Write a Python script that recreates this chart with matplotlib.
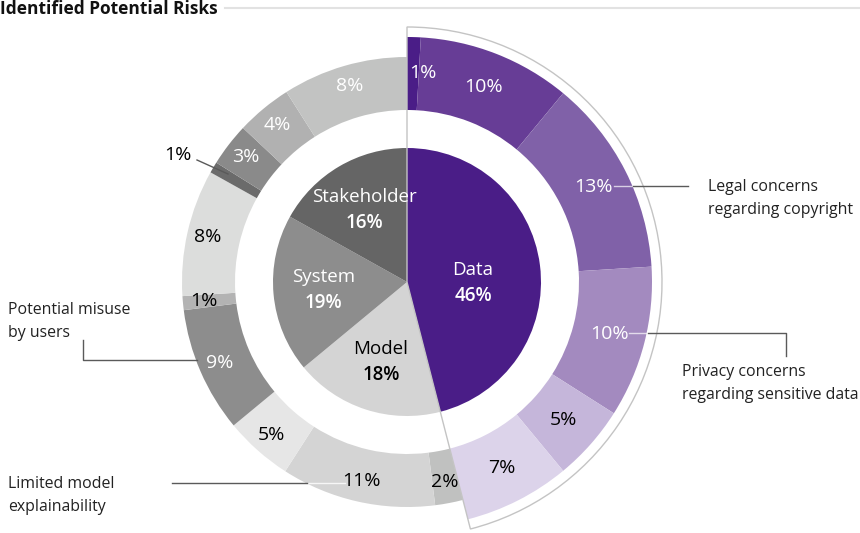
import numpy as np
import matplotlib.pyplot as plt
from matplotlib.patches import Wedge

plt.rcParams['font.family'] = ['Open Sans', 'DejaVu Sans']

# inner pie: risk categories
inner_names = ["Data", "Model", "System", "Stakeholder"]
inner_share = [46, 18, 19.1, 16.9]
inner_labels = ["46%", "18%", "19%", "16%"]

# outer ring: individual risks, clockwise from 12 o'clock
outer_group = [0, 0, 0, 0, 0, 0, 1, 1, 1, 2, 2, 2, 3, 3, 3, 3]
outer_share = [0.9, 10.1, 13, 10, 5, 7, 2, 11.1, 4.9, 9, 1, 9.1, 0.8, 3.1, 4, 9]
outer_labels = ["1%", "10%", "13%", "10%", "5%", "7%", "2%", "11%", "5%",
                "9%", "1%", "8%", "1%", "3%", "4%", "8%"]

# called-out risks
callouts = ["Legal concerns\nregarding copyright",
            "Privacy concerns\nregarding sensitive data",
            "Potential misuse\nby users",
            "Limited model\nexplainability"]

inner_colors = ["#4a1d87", "#d4d4d4", "#8d8d8d", "#656565"]
inner_text = ["white", "black", "white", "white"]
outer_colors = ["#4a1d87", "#673d96", "#8061a8", "#a38abf", "#c5b6da", "#dcd3ea",
                "#c0c1c0", "#d4d4d4", "#e6e6e6",
                "#8d8d8d", "#b3b3b3", "#dcdddc",
                "#6b6b6b", "#8a8a8a", "#b1b1b1", "#c2c3c2"]
outer_text = ["white", "white", "white", "white", "black", "black",
              "black", "black", "black",
              "white", "black", "black",
              "black", "white", "white", "white"]

W, H = 860, 533
CX, CY = 407, H - 282
R_IN = 134
R_RING_IN, R_RING_OUT, R_DATA_OUT = 172, 225, 245
LINE = "#5a5a5a"


def py(y):
    return H - y


def polar(r, ang):
    a = np.radians(ang)
    return CX + r * np.cos(a), CY + r * np.sin(a)


fig = plt.figure(figsize=(8.6, 5.33), dpi=100)
ax = fig.add_axes([0, 0, 1, 1])

ax.pie(inner_share, colors=inner_colors, radius=R_IN, center=(CX, CY),
       startangle=90, counterclock=False, wedgeprops=dict(linewidth=0))
wedges, _ = ax.pie(outer_share, colors=outer_colors, radius=R_RING_OUT, center=(CX, CY),
                   startangle=90, counterclock=False,
                   wedgeprops=dict(width=R_RING_OUT - R_RING_IN, linewidth=0))
for w, g in zip(wedges, outer_group):
    if g == 0:
        w.set_radius(R_DATA_OUT)
        w.set_width(R_DATA_OUT - R_RING_IN)

ax.set_xlim(0, W)
ax.set_ylim(0, H)
ax.set_aspect('auto')
ax.axis('off')

# outline around the data slice
total_in = sum(inner_share)
data_deg = inner_share[0] / total_in * 360
ax.add_patch(Wedge((CX, CY), 255, 90 - data_deg, 90, fill=False,
                   ec="#c4c4c4", lw=1, zorder=5))

# inner labels
cum = np.cumsum([0] + inner_share[:-1])
for i, name in enumerate(inner_names):
    mid = 90 - (cum[i] + inner_share[i] / 2) / total_in * 360
    if i == 0:
        x, y = polar(66, mid - 8)
    else:
        x, y = polar(84, mid)
    ax.text(x, y + 13, name, ha='center', va='center', fontsize=13.5,
            color=inner_text[i], zorder=6)
    ax.text(x, y - 13, inner_labels[i], ha='center', va='center', fontsize=13.5,
            fontweight='semibold', color=inner_text[i], zorder=6)

# outer labels
total_out = sum(outer_share)
cum = np.cumsum([0] + outer_share[:-1])
for i, lab in enumerate(outer_labels):
    mid = 90 - (cum[i] + outer_share[i] / 2) / total_out * 360
    r = 209 if outer_group[i] == 0 else 204
    x, y = polar(r, mid)
    if i == 0:
        ax.text(CX + 2, y, lab, ha='left', va='center', fontsize=14,
                fontweight='medium', color=outer_text[i], zorder=6)
    elif i == 12:
        ax.text(178, py(155), lab, ha='center', va='center', fontsize=14,
                fontweight='medium', color="black", zorder=6)
        ax.plot([197, 228], [py(160), py(174)], color=LINE, lw=1, zorder=6)
    else:
        ax.text(x, y, lab, ha='center', va='center', fontsize=14,
                fontweight='medium', color=outer_text[i], zorder=6)

# leader lines
ax.plot([614, 633], [py(186)] * 2, color="white", lw=1, alpha=0.7, zorder=6)
ax.plot([633, 688], [py(186)] * 2, color=LINE, lw=1, zorder=6)
ax.plot([629, 648], [py(333)] * 2, color="white", lw=1, alpha=0.7, zorder=6)
ax.plot([648, 786, 786], [py(333), py(333), py(356)], color=LINE, lw=1, zorder=6)
ax.plot([197, 83, 83], [py(360), py(360), py(340)], color=LINE, lw=1, zorder=6)
ax.plot([345, 307], [py(483)] * 2, color="white", lw=1, alpha=0.8, zorder=6)
ax.plot([307, 172], [py(483)] * 2, color=LINE, lw=1, zorder=6)

txt = dict(ha='left', va='top', fontsize=11.4, color="#222222", linespacing=1.6)
ax.text(708, py(179), callouts[0], **txt)
ax.text(682, py(364), callouts[1], **txt)
ax.text(8, py(302), callouts[2], **txt)
ax.text(8, py(476), callouts[3], **txt)

# title
ax.text(0, py(9), "Identified Potential Risks", ha='left', va='center',
        fontsize=12.5, fontweight='bold', color="#111111")
ax.plot([225, 860], [py(8), py(8)], color="#e2e2e2", lw=1.5)

fig.savefig("out.png", dpi=100)
